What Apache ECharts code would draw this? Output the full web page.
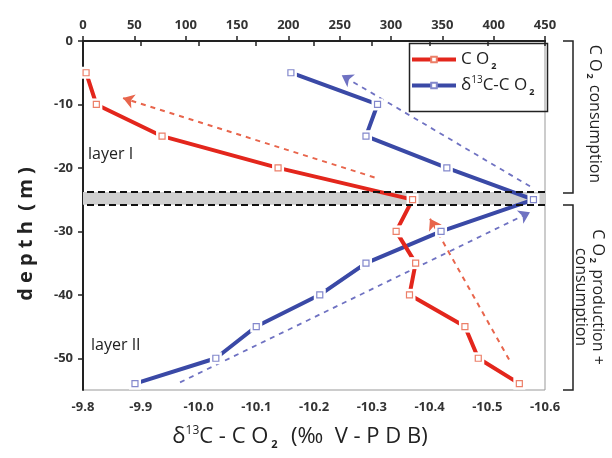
<!DOCTYPE html>
<html>
<head>
<meta charset="utf-8">
<script src="https://cdn.jsdelivr.net/npm/echarts@6/dist/echarts.min.js"></script>
<style>
  html, body { margin: 0; padding: 0; background: #fff; }
  #chart { width: 612px; height: 458px; }
</style>
</head>
<body>
<div id="chart"></div>
<script>
// depth below surface (m), shown as negative on the axis
var depths = [5, 10, 15, 20, 25, 30, 35, 40, 45, 50, 54];
var co2Values = [3, 13, 77, 190, 321, 305, 324, 318, 372, 385, 425];
var d13cValues = [-10.16, -10.31, -10.29, -10.43, -10.58, -10.42, -10.29, -10.21, -10.10, -10.03, -9.89];

var co2Axis = [0, 450, 50];
var d13cAxis = [-10.6, -9.8, 0.1];
var depthAxis = [0, 55, 10];

// boundary between the two layers (grey band)
var bandDepths = [23.8, 25.8];

// trend arrows [from, to] in data units
var co2Arrows = [[[284, 21.5], [39, 9.0]], [[415, 50.2], [338, 28.0]]];
var d13cArrows = [[[-10.574, 22.9], [-10.248, 5.4]], [[-9.968, 53.8], [-10.574, 27.0]]];

var RED = '#e3261c', RED_MK = '#ec7f68', RED_DASH = '#e8654c';
var BLUE = '#3a49a6', BLUE_MK = '#8388cc', BLUE_DASH = '#6f72c2';
var FONT = '"Open Sans", sans-serif';

var chart = echarts.init(document.getElementById('chart'));

function pairs(xs) {
    return xs.map(function (x, i) { return [x, depths[i]]; });
}

function seriesSet(name, values, axisIdx, color, markColor, extra) {
    var line = {
        name: name,
        type: 'line',
        xAxisIndex: axisIdx,
        data: pairs(values),
        symbol: 'rect',
        symbolSize: 6,
        showSymbol: false,
        lineStyle: { color: color, width: 4 },
        itemStyle: { color: '#fff', borderColor: markColor, borderWidth: 1.2 },
        z: 2
    };
    if (extra) Object.assign(line, extra);
    // white squares that cut the line around each point
    var gap = {
        type: 'scatter',
        xAxisIndex: axisIdx,
        data: pairs(values),
        symbol: 'rect',
        symbolSize: 12,
        itemStyle: { color: '#fff', opacity: 1 },
        silent: true,
        z: 3
    };
    var marks = {
        type: 'scatter',
        xAxisIndex: axisIdx,
        data: pairs(values),
        symbol: 'rect',
        symbolSize: 6,
        itemStyle: { color: '#fff', borderColor: markColor, borderWidth: 1.2, opacity: 1 },
        silent: true,
        z: 4
    };
    return [line, gap, marks];
}

function arrows(list, axisIdx, color, width) {
    return {
        type: 'lines',
        coordinateSystem: 'cartesian2d',
        xAxisIndex: axisIdx,
        yAxisIndex: 0,
        data: list.map(function (c) { return { coords: c }; }),
        symbol: ['none', 'arrow'],
        symbolSize: 11,
        lineStyle: { color: color, width: width, type: [5, 5], opacity: 1 },
        silent: true,
        z: 1
    };
}

var tickLabel = { color: '#333', fontFamily: FONT, fontSize: 13, fontWeight: 'bold' };
var axisLine = { lineStyle: { color: '#222', width: 2 } };
var axisTick = { inside: false, length: 5, lineStyle: { color: '#222', width: 1.5 } };

var option = {
    animation: false,
    grid: { left: 83, top: 41, width: 462, height: 349, show: true, borderColor: '#999', borderWidth: 1 },
    legend: {
        orient: 'vertical',
        left: 410,
        top: 51,
        itemWidth: 44,
        itemHeight: 7,
        itemGap: 5,
        padding: 0,
        lineStyle: { width: 4 },
        data: ['CO2', 'd13C'],
        formatter: function (n) {
            return n === 'CO2' ? '{a|C O}{s|2}' : '{a|δ}{p|13}{a|C-C O}{s|2}';
        },
        textStyle: {
            fontFamily: FONT, color: '#222',
            rich: {
                a: { fontSize: 17, fontFamily: FONT, color: '#222' },
                s: { fontSize: 9, fontFamily: FONT, fontWeight: 700, color: '#222', padding: [13, 0, 0, 2] },
                p: { fontSize: 10, fontFamily: FONT, color: '#222', padding: [0, 0, 10, 0] }
            }
        }
    },
    xAxis: [{
        type: 'value', position: 'bottom', inverse: true,
        min: d13cAxis[0], max: d13cAxis[1], interval: d13cAxis[2],
        axisLine: axisLine, axisTick: axisTick, splitLine: { show: false },
        axisLabel: Object.assign({ margin: 11, formatter: function (v) { return v.toFixed(1); } }, tickLabel)
    }, {
        type: 'value', position: 'top',
        min: co2Axis[0], max: co2Axis[1], interval: co2Axis[2],
        axisLine: axisLine, axisTick: axisTick, splitLine: { show: false },
        axisLabel: Object.assign({ margin: 9 }, tickLabel)
    }],
    yAxis: [{
        type: 'value', inverse: true,
        min: depthAxis[0], max: depthAxis[1], interval: depthAxis[2],
        axisLine: axisLine, axisTick: axisTick, splitLine: { show: false },
        axisLabel: Object.assign({ margin: 10, showMaxLabel: false, formatter: function (v) { return v === 0 ? '0' : '-' + v; } }, tickLabel)
    }],
    series: [].concat(
        seriesSet('d13C', d13cValues, 0, BLUE, BLUE_MK, {
            markArea: {
                silent: true,
                itemStyle: { color: '#cfcfcf' },
                data: [[{ yAxis: bandDepths[0] }, { yAxis: bandDepths[1] }]]
            },
            markLine: {
                silent: true, symbol: 'none', label: { show: false },
                lineStyle: { color: '#111', width: 2, type: [7, 4] },
                data: [{ yAxis: bandDepths[0] }, { yAxis: bandDepths[1] }]
            }
        }),
        seriesSet('CO2', co2Values, 1, RED, RED_MK),
        [arrows(co2Arrows, 1, RED_DASH, 2), arrows(d13cArrows, 0, BLUE_DASH, 1.8)]
    ),
    graphic: [
        { type: 'rect', left: 407, top: 41, shape: { width: 138, height: 68 }, style: { fill: null, stroke: '#222', lineWidth: 1.5 }, z: 10 },
        { type: 'text', left: 88, top: 146, style: { text: 'layer I', font: '500 16px ' + FONT, fill: '#222' } },
        { type: 'text', left: 91, top: 337, style: { text: 'layer II', font: '500 16px ' + FONT, fill: '#222' } },
        {
            type: 'text', x: 26, y: 234, rotation: Math.PI / 2, originX: 0, originY: 0,
            style: { text: 'd e p t h  ( m )', font: 'bold 20px ' + FONT, fill: '#222', align: 'center', verticalAlign: 'middle' }
        },
        {
            type: 'text', x: 300, y: 437,
            style: {
                text: '{a|δ}{p|13}{a|C - C O}{s|2}{a|  (‰  V - P D B)}',
                align: 'center', verticalAlign: 'middle',
                rich: {
                    a: { fontSize: 22, fontFamily: FONT, fill: '#222' },
                    p: { fontSize: 12, fontFamily: FONT, fill: '#222', padding: [0, 0, 13, 0] },
                    s: { fontSize: 11, fontFamily: FONT, fontWeight: 700, fill: '#222', padding: [15, 2, 0, 3] }
                }
            }
        },
        { type: 'polyline', shape: { points: [[563, 41], [573, 41], [573, 193], [563, 193]] }, style: { fill: null, stroke: '#222', lineWidth: 1.5 } },
        { type: 'polyline', shape: { points: [[563, 205], [573, 205], [573, 390], [563, 390]] }, style: { fill: null, stroke: '#222', lineWidth: 1.5 } },
        {
            type: 'text', x: 595, y: 114, rotation: -Math.PI / 2,
            style: {
                text: '{a|C O}{s|2}{a| consumption}', align: 'center', verticalAlign: 'middle',
                rich: {
                    a: { fontSize: 16, fontFamily: FONT, fill: '#222' },
                    s: { fontSize: 9, fontFamily: FONT, fontWeight: 700, fill: '#222', padding: [11, 2, 0, 2] }
                }
            }
        },
        {
            type: 'text', x: 591, y: 297, rotation: -Math.PI / 2,
            style: {
                text: '{a|C O}{s|2}{a| production +}\n{a|consumption}', align: 'center', verticalAlign: 'middle',
                rich: {
                    a: { fontSize: 16, fontFamily: FONT, fill: '#222', lineHeight: 14, align: 'center' },
                    s: { fontSize: 9, fontFamily: FONT, fontWeight: 700, fill: '#222', padding: [11, 2, 0, 2] }
                }
            }
        }
    ]
};

chart.setOption(option);
</script>
</body>
</html>
